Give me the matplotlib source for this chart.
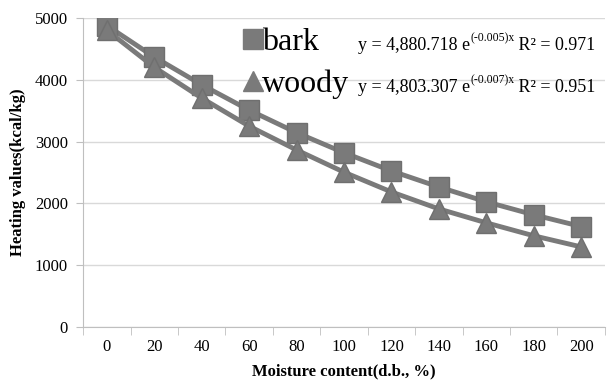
import matplotlib
matplotlib.use("Agg")
import matplotlib.pyplot as plt
from matplotlib.lines import Line2D

categories = [0, 20, 40, 60, 80, 100, 120, 140, 160, 180, 200]
bark = [4880, 4370, 3920, 3510, 3145, 2820, 2525, 2265, 2025, 1815, 1625]
woody = [4805, 4205, 3705, 3250, 2865, 2505, 2185, 1910, 1685, 1475, 1295]
series_names = ["bark", "woody"]
eq_main = ["y = 4,880.718 e", "y = 4,803.307 e"]
eq_sup = ["(-0.005)x", "(-0.007)x"]
eq_r2 = [" R\u00b2 = 0.971", " R\u00b2 = 0.951"]
yticks = [0, 1000, 2000, 3000, 4000, 5000]

serif = "Liberation Serif"
gray = "#7a7a7a"

fig = plt.figure(figsize=(6.11, 3.85), dpi=100)
ax = fig.add_axes([0.136, 0.151, 0.854, 0.802])

xpos = list(range(len(categories)))
ax.plot(xpos, bark, color=gray, lw=3.5, marker="s", ms=14, mec="#6f6f6f", mfc=gray, zorder=3)
ax.plot(xpos, woody, color=gray, lw=3.5, marker="^", ms=15, mec="#6f6f6f", mfc=gray, zorder=3)

ax.set_xlim(-0.5, len(categories) - 0.5)
ax.set_ylim(0, 5000)
ax.set_yticks(yticks)
ax.set_yticklabels([str(v) for v in yticks], fontfamily=serif, fontsize=12)
ax.set_xticks(xpos)
ax.set_xticklabels([str(c) for c in categories], fontfamily=serif, fontsize=12)
ax.tick_params(axis="x", length=0, pad=9)
ax.tick_params(axis="y", length=5, color="#bfbfbf", pad=6)
ax.set_xticks([i - 0.5 for i in range(len(categories) + 1)], minor=True)
ax.tick_params(axis="x", which="minor", length=6, color="#bfbfbf", direction="out")

ax.grid(axis="y", color="#d9d9d9", lw=1)
ax.set_axisbelow(True)
for s in ["top", "right"]:
    ax.spines[s].set_visible(False)
ax.spines["left"].set_color("#bfbfbf")
ax.spines["bottom"].set_color("#bfbfbf")

ax.set_xlabel("Moisture content(d.b., %)", fontfamily=serif, fontsize=12, fontweight="bold", labelpad=6)
ax.set_ylabel("Heating values(kcal/kg)", fontfamily=serif, fontsize=12, fontweight="bold", labelpad=6)

handles = [Line2D([], [], ls="none", marker="s", ms=14, color=gray),
           Line2D([], [], ls="none", marker="^", ms=15, color=gray)]
ax.legend(handles, series_names, loc="upper left", bbox_to_anchor=(0.3065, 0.968),
          frameon=False, prop={"family": serif, "size": 23}, handlelength=0.6,
          handletextpad=0.0, labelspacing=0.39, borderaxespad=0, borderpad=0)

fig.canvas.draw()
r = fig.canvas.get_renderer()
for i, yb in enumerate([0.870, 0.761]):
    t1 = fig.text(0.586, yb, eq_main[i], fontfamily=serif, fontsize=13, va="baseline")
    bb = t1.get_window_extent(r)
    x2 = bb.x1 / fig.bbox.width
    t2 = fig.text(x2, yb + 0.022, eq_sup[i], fontfamily=serif, fontsize=8.5, va="baseline")
    bb2 = t2.get_window_extent(r)
    x3 = bb2.x1 / fig.bbox.width
    fig.text(x3, yb, eq_r2[i], fontfamily=serif, fontsize=13, va="baseline")

fig.savefig("out.png", dpi=100)
